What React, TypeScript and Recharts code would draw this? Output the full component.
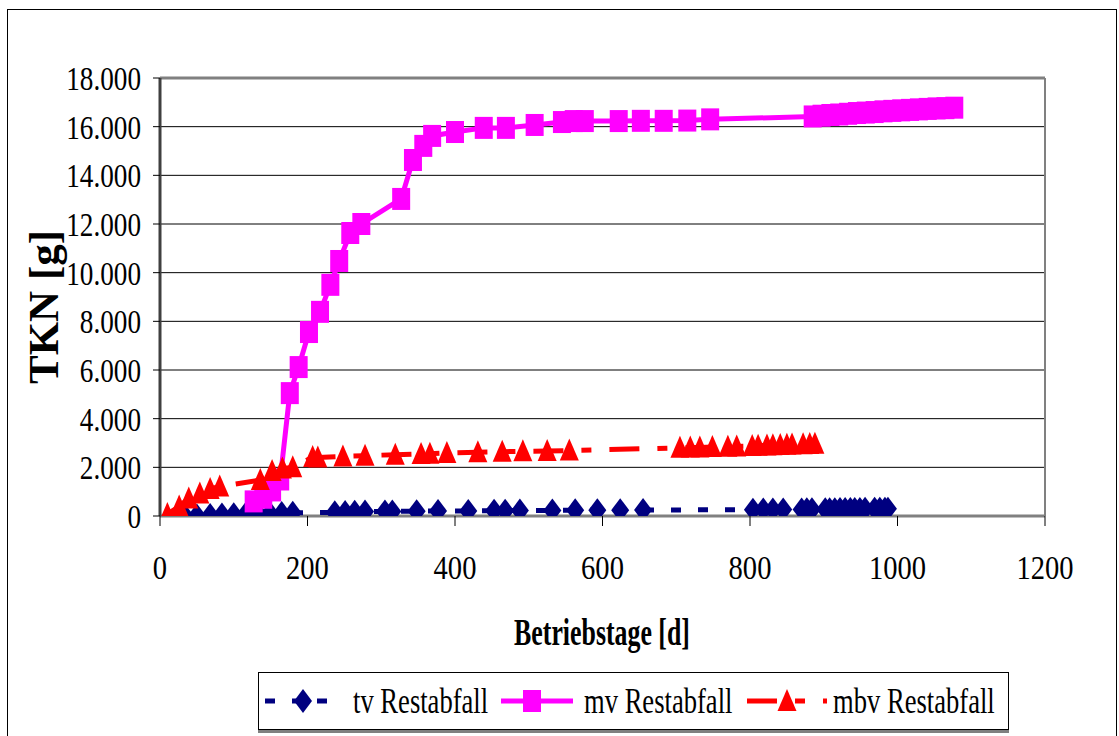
import React from 'react';
import { ScatterChart, Scatter, XAxis, YAxis, CartesianGrid, ReferenceLine } from 'recharts';

// ---- data ----
const tvDays = [34, 50, 68, 84, 100, 116, 133, 149, 165, 180, 237, 251, 264, 278, 305, 315, 348, 377, 418, 453, 468, 488, 532, 563, 593, 624, 655, 804, 818, 831, 845, 870, 877, 884, 902, 908, 915, 922, 929, 936, 942, 949, 956, 969, 976, 983, 987];
const tvValues = [0, 20, 40, 60, 70, 80, 100, 110, 120, 130, 150, 160, 170, 180, 190, 190, 200, 210, 210, 220, 220, 225, 230, 235, 240, 240, 245, 260, 262, 265, 268, 272, 274, 276, 278, 280, 282, 284, 286, 288, 290, 292, 294, 296, 298, 299, 300];

const mvDays = [127, 140, 152, 163, 176, 188, 202, 217, 231, 243, 258, 273, 327, 343, 357, 369, 400, 439, 469, 508, 545, 561, 576, 622, 652, 683, 715, 746, 885, 897, 909, 921, 933, 945, 957, 969, 981, 993, 1005, 1017, 1029, 1041, 1053, 1065, 1077];
const mvValues = [600, 750, 1050, 1500, 5050, 6120, 7560, 8390, 9500, 10480, 11630, 12000, 13030, 14630, 15210, 15620, 15780, 15950, 15950, 16070, 16190, 16230, 16230, 16230, 16240, 16240, 16250, 16300, 16420, 16450, 16480, 16500, 16530, 16560, 16580, 16600, 16630, 16650, 16670, 16690, 16710, 16730, 16750, 16760, 16780];

const mbvDays = [10, 26, 39, 54, 68, 81, 136, 152, 166, 180, 207, 214, 248, 278, 319, 354, 366, 389, 431, 464, 492, 525, 555, 705, 719, 732, 749, 770, 782, 803, 811, 823, 831, 841, 850, 857, 872, 881, 888];
const mbvValues = [80, 390, 720, 925, 1110, 1210, 1480, 1850, 1950, 2000, 2420, 2400, 2450, 2480, 2520, 2550, 2560, 2590, 2620, 2640, 2660, 2670, 2690, 2800, 2810, 2820, 2840, 2850, 2860, 2880, 2890, 2900, 2910, 2920, 2930, 2940, 2950, 2960, 2970];

const xTicks = [0, 200, 400, 600, 800, 1000, 1200];
const yTicks = [0, 2000, 4000, 6000, 8000, 10000, 12000, 14000, 16000, 18000];

const seriesNames = ['tv Restabfall', 'mv Restabfall', 'mbv Restabfall'];

const toPoints = (d: number[], v: number[]) => d.map((x, i) => ({ x, y: v[i] }));
const tvData = toPoints(tvDays, tvValues);
const mvData = toPoints(mvDays, mvValues);
const mbvData = toPoints(mbvDays, mbvValues);

const FONT = '"Liberation Serif","Times New Roman",serif';
const NAVY = '#000080';
const MAGENTA = '#FF00FF';
const RED = '#FF0000';

const fmtY = (v: number) => {
  if (v === 0) return '0';
  const s = String(v);
  return s.slice(0, s.length - 3) + '.' + s.slice(s.length - 3);
};

const Diamond = (p: any) => {
  const { cx, cy } = p;
  return <path d={`M${cx},${cy - 12} L${cx + 9},${cy} L${cx},${cy + 12} L${cx - 9},${cy} Z`} fill={NAVY} />;
};
const Square = (p: any) => {
  const { cx, cy } = p;
  return <rect x={cx - 9} y={cy - 11} width={18} height={22} fill={MAGENTA} />;
};
const Triangle = (p: any) => {
  const { cx, cy } = p;
  return <path d={`M${cx},${cy - 12} L${cx + 9.5},${cy + 10} L${cx - 9.5},${cy + 10} Z`} fill={RED} />;
};

const XTick = (p: any) => {
  const { x, y, payload } = p;
  return (
    <text x={x} y={y + 51} textAnchor="middle" fontFamily={FONT} fontSize={34} fill="#000"
      transform={`translate(${x},0) scale(0.84,1) translate(${-x},0)`}>{String(payload.value)}</text>
  );
};
const YTick = (p: any) => {
  const { x, y, payload } = p;
  const ax = x - 10;
  return (
    <text x={ax} y={y + 12} textAnchor="end" fontFamily={FONT} fontSize={34} fill="#000"
      transform={`translate(${ax},0) scale(0.8,1) translate(${-ax},0)`}>{fmtY(payload.value)}</text>
  );
};

const LegendBox = () => (
  <div style={{ position: 'absolute', left: 258, top: 672, width: 749, height: 56, border: '1px solid #000', background: '#fff', boxShadow: '0 3px 0 #808080' }}>
    <svg width={749} height={56} style={{ display: 'block' }}>
      {/* tv */}
      <line x1={6} y1={28} x2={40} y2={28} stroke={NAVY} strokeWidth={5} strokeDasharray="10 17" />
      <line x1={58} y1={28} x2={78} y2={28} stroke={NAVY} strokeWidth={5} strokeDasharray="10 17" />
      <Diamond cx={44} cy={28} />
      <text x={94} y={40} fontFamily={FONT} fontSize={35} transform="translate(94,0) scale(0.76,1) translate(-94,0)">{seriesNames[0]}</text>
      {/* mv */}
      <line x1={242} y1={28} x2={314} y2={28} stroke={MAGENTA} strokeWidth={5} />
      <Square cx={273} cy={28} />
      <text x={325} y={40} fontFamily={FONT} fontSize={35} transform="translate(325,0) scale(0.76,1) translate(-325,0)">{seriesNames[1]}</text>
      {/* mbv */}
      <line x1={488} y1={28} x2={568} y2={28} stroke={RED} strokeWidth={5} strokeDasharray="30 18 10 18" />
      <Triangle cx={528} cy={28} />
      <text x={574} y={40} fontFamily={FONT} fontSize={35} transform="translate(574,0) scale(0.76,1) translate(-574,0)">{seriesNames[2]}</text>
    </svg>
  </div>
);

export default function App() {
  return (
    <div style={{ position: 'absolute', left: 0, top: 0, width: 1119, height: 736, background: '#fff', overflow: 'hidden' }}>
      <div style={{ position: 'absolute', left: 7, top: 9, width: 1108, height: 740, border: '1px solid #000' }} />
      <div style={{ position: 'absolute', left: 0, top: 0 }}>
        <ScatterChart width={1119} height={736} margin={{ top: 78, right: 74, bottom: 160, left: 60 }}>
          <CartesianGrid vertical={false} stroke="#000" strokeWidth={1} />
          <XAxis type="number" dataKey="x" domain={[0, 1200]} ticks={xTicks} interval={0} height={60}
            tick={<XTick />} tickSize={10} tickLine={{ stroke: '#000', strokeWidth: 1 }}
            axisLine={{ stroke: '#808080', strokeWidth: 3 }} allowDataOverflow />
          <YAxis type="number" dataKey="y" domain={[0, 18000]} ticks={yTicks} interval={0} width={100}
            tick={<YTick />} tickSize={7} tickLine={{ stroke: '#000', strokeWidth: 1 }}
            axisLine={{ stroke: '#404040', strokeWidth: 3 }} allowDataOverflow />
          <ReferenceLine y={18000} stroke="#808080" strokeWidth={3} />
          <ReferenceLine x={1200} stroke="#808080" strokeWidth={2} />
          <Scatter name={seriesNames[0]} data={tvData} shape={Diamond} fill={NAVY}
            line={{ stroke: NAVY, strokeWidth: 5, strokeDasharray: '10 17' }} isAnimationActive={false} />
          <Scatter name={seriesNames[1]} data={mvData} shape={Square} fill={MAGENTA}
            line={{ stroke: MAGENTA, strokeWidth: 5 }} isAnimationActive={false} />
          <Scatter name={seriesNames[2]} data={mbvData} shape={Triangle} fill={RED}
            line={{ stroke: RED, strokeWidth: 5, strokeDasharray: '30 18 10 18' }} isAnimationActive={false} />
        </ScatterChart>
      </div>
      <div style={{ position: 'absolute', left: 43, top: 307, transform: 'translate(-50%,-50%) rotate(-90deg)', fontFamily: FONT, fontWeight: 'bold', fontSize: 43, whiteSpace: 'nowrap', lineHeight: 1 }}>TKN [g]</div>
      <div style={{ position: 'absolute', left: 602, top: 632, transform: 'translate(-50%,-50%) scaleX(0.68)', fontFamily: FONT, fontWeight: 'bold', fontSize: 38, whiteSpace: 'nowrap', lineHeight: 1 }}>Betriebstage [d]</div>
      <LegendBox />
    </div>
  );
}
